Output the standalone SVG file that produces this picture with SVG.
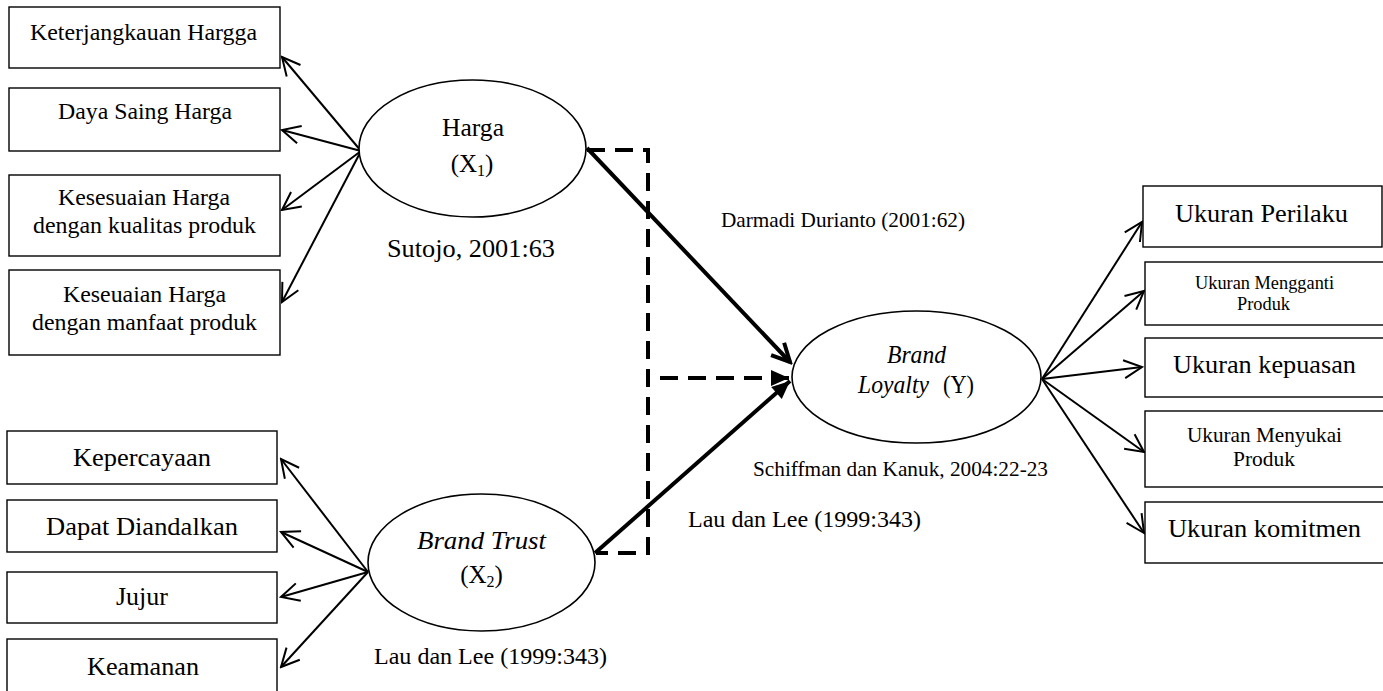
<svg xmlns="http://www.w3.org/2000/svg" width="1383" height="691" viewBox="0 0 1383 691">
<style>
.box{fill:#fff;stroke:#000;stroke-width:1.4}
.ell{fill:#fff;stroke:#000;stroke-width:1.6}
text{font-family:"Liberation Serif","Times New Roman",serif;fill:#000;text-anchor:middle}
.t24{font-size:24px}
.t26{font-size:26px}
.t18{font-size:18px}
.t21{font-size:21px}
.t25{font-size:25px}
.it{font-style:italic}
.thin{fill:none;stroke:#000;stroke-width:2}
.thick{fill:none;stroke:#000;stroke-width:4}
.dash{fill:none;stroke:#000;stroke-width:4;stroke-dasharray:18 10}
</style>
<defs>
<marker id="open" markerUnits="userSpaceOnUse" viewBox="0 0 22 22" refX="20" refY="11" markerWidth="22" markerHeight="22" orient="auto">
<path d="M2,2 L20,11 L2,20" fill="none" stroke="#000" stroke-width="2"/>
</marker>
<marker id="openThick" markerUnits="userSpaceOnUse" viewBox="0 0 24 24" refX="21" refY="12" markerWidth="24" markerHeight="24" orient="auto">
<path d="M3,3 L21,12 L3,21" fill="none" stroke="#000" stroke-width="4"/>
</marker>
<marker id="filled" markerUnits="userSpaceOnUse" viewBox="0 0 20 20" refX="19" refY="10" markerWidth="20" markerHeight="20" orient="auto">
<path d="M1,2 L19,10 L1,18 Z" fill="#000"/>
</marker>
</defs>

<g id="connectors">
<line class="thin" x1="361" y1="151" x2="282" y2="57" marker-end="url(#open)"/>
<line class="thin" x1="361" y1="151" x2="282" y2="130" marker-end="url(#open)"/>
<line class="thin" x1="361" y1="151" x2="282" y2="210" marker-end="url(#open)"/>
<line class="thin" x1="361" y1="151" x2="282" y2="302" marker-end="url(#open)"/>
<line class="thin" x1="368" y1="572" x2="281" y2="459" marker-end="url(#open)"/>
<line class="thin" x1="368" y1="572" x2="281" y2="532" marker-end="url(#open)"/>
<line class="thin" x1="368" y1="572" x2="281" y2="597" marker-end="url(#open)"/>
<line class="thin" x1="368" y1="572" x2="281" y2="667" marker-end="url(#open)"/>
<line class="thin" x1="1042" y1="379" x2="1142" y2="222" marker-end="url(#open)"/>
<line class="thin" x1="1042" y1="379" x2="1144" y2="291" marker-end="url(#open)"/>
<line class="thin" x1="1042" y1="379" x2="1142" y2="367" marker-end="url(#open)"/>
<line class="thin" x1="1042" y1="379" x2="1144" y2="452" marker-end="url(#open)"/>
<line class="thin" x1="1042" y1="379" x2="1144" y2="533" marker-end="url(#open)"/>
<path class="dash" d="M587,150 H648 V553 H596"/>
<path class="dash" d="M660,378 H789" marker-end="url(#filled)"/>
<line class="thick" x1="587" y1="148" x2="790" y2="362" marker-end="url(#openThick)"/>
<line class="thick" x1="595" y1="553" x2="790" y2="381" marker-end="url(#filled)"/>
</g>

<g id="harga">
<ellipse class="ell" cx="472.5" cy="148.5" rx="113.5" ry="68.5"/>
<text class="t25" x="473" y="136" textLength="62" lengthAdjust="spacingAndGlyphs">Harga</text>
<text class="t25" x="472" y="172">(X<tspan font-size="16" dy="4">1</tspan><tspan dy="-4">)</tspan></text>
<text class="t26" x="471" y="257" textLength="168" lengthAdjust="spacingAndGlyphs">Sutojo, 2001:63</text>
</g>

<g id="brand-trust">
<ellipse class="ell" cx="481.5" cy="562.5" rx="113.5" ry="68.5"/>
<text class="t25 it" x="481.5" y="549" textLength="129" lengthAdjust="spacingAndGlyphs">Brand Trust</text>
<text class="t25" x="481.5" y="583">(X<tspan font-size="16" dy="4">2</tspan><tspan dy="-4">)</tspan></text>
<text class="t24" x="490.5" y="664" textLength="233" lengthAdjust="spacingAndGlyphs">Lau dan Lee (1999:343)</text>
</g>

<g id="brand-loyalty">
<ellipse class="ell" cx="916.5" cy="377" rx="124.5" ry="66"/>
<text class="t25 it" x="916.5" y="363" textLength="59" lengthAdjust="spacingAndGlyphs">Brand</text>
<text class="t25 it" x="893.5" y="393" textLength="71" lengthAdjust="spacingAndGlyphs">Loyalty</text>
<text class="t25" x="958.5" y="393" textLength="31" lengthAdjust="spacingAndGlyphs">(Y)</text>
<text class="t21" x="900.5" y="476" textLength="295" lengthAdjust="spacingAndGlyphs">Schiffman dan Kanuk, 2004:22-23</text>
</g>

<g id="label-darmadi">
<text class="t21" x="843" y="227" textLength="244" lengthAdjust="spacingAndGlyphs">Darmadi Durianto (2001:62)</text>
</g>
<g id="label-lau-mid">
<text class="t24" x="804.5" y="527" textLength="233" lengthAdjust="spacingAndGlyphs">Lau dan Lee (1999:343)</text>
</g>

<g id="keterjangkauan">
<rect class="box" x="9" y="7" width="271" height="61"/>
<text class="t24" x="143.5" y="40" textLength="227" lengthAdjust="spacingAndGlyphs">Keterjangkauan Hargga</text>
</g>
<g id="daya-saing">
<rect class="box" x="9" y="88" width="271" height="63"/>
<text class="t24" x="145" y="119" textLength="174" lengthAdjust="spacingAndGlyphs">Daya Saing Harga</text>
</g>
<g id="kesesuaian-kualitas">
<rect class="box" x="9" y="175" width="271" height="81"/>
<text class="t24" x="144" y="205" textLength="172" lengthAdjust="spacingAndGlyphs">Kesesuaian Harga</text>
<text class="t24" x="144.5" y="233" textLength="223" lengthAdjust="spacingAndGlyphs">dengan kualitas produk</text>
</g>
<g id="keseuaian-manfaat">
<rect class="box" x="9" y="270" width="271" height="85"/>
<text class="t24" x="144.5" y="302" textLength="163" lengthAdjust="spacingAndGlyphs">Keseuaian Harga</text>
<text class="t24" x="144.5" y="330" textLength="225" lengthAdjust="spacingAndGlyphs">dengan manfaat produk</text>
</g>

<g id="kepercayaan">
<rect class="box" x="7" y="431" width="270" height="53"/>
<text class="t26" x="142" y="466" textLength="138" lengthAdjust="spacingAndGlyphs">Kepercayaan</text>
</g>
<g id="dapat-diandalkan">
<rect class="box" x="7" y="500" width="270" height="52"/>
<text class="t26" x="142" y="535" textLength="192" lengthAdjust="spacingAndGlyphs">Dapat Diandalkan</text>
</g>
<g id="jujur">
<rect class="box" x="7" y="572" width="270" height="51"/>
<text class="t26" x="142" y="605" textLength="52" lengthAdjust="spacingAndGlyphs">Jujur</text>
</g>
<g id="keamanan">
<rect class="box" x="7" y="639" width="270" height="60"/>
<text class="t26" x="143" y="675" textLength="112" lengthAdjust="spacingAndGlyphs">Keamanan</text>
</g>

<g id="ukuran-perilaku">
<rect class="box" x="1143" y="186" width="239" height="61"/>
<text class="t26" x="1261.5" y="222" textLength="173" lengthAdjust="spacingAndGlyphs">Ukuran Perilaku</text>
</g>
<g id="ukuran-mengganti">
<rect class="box" x="1145" y="262" width="245" height="63"/>
<text class="t18" x="1264.5" y="289" textLength="139" lengthAdjust="spacingAndGlyphs">Ukuran Mengganti</text>
<text class="t18" x="1263.5" y="310" textLength="53" lengthAdjust="spacingAndGlyphs">Produk</text>
</g>
<g id="ukuran-kepuasan">
<rect class="box" x="1145" y="338" width="245" height="59"/>
<text class="t26" x="1264.5" y="373" textLength="183" lengthAdjust="spacingAndGlyphs">Ukuran kepuasan</text>
</g>
<g id="ukuran-menyukai">
<rect class="box" x="1145" y="411" width="245" height="76"/>
<text class="t21" x="1264.5" y="442" textLength="155" lengthAdjust="spacingAndGlyphs">Ukuran Menyukai</text>
<text class="t21" x="1264" y="466" textLength="62" lengthAdjust="spacingAndGlyphs">Produk</text>
</g>
<g id="ukuran-komitmen">
<rect class="box" x="1145" y="502" width="245" height="61"/>
<text class="t26" x="1264.5" y="537" textLength="193" lengthAdjust="spacingAndGlyphs">Ukuran komitmen</text>
</g>
</svg>
